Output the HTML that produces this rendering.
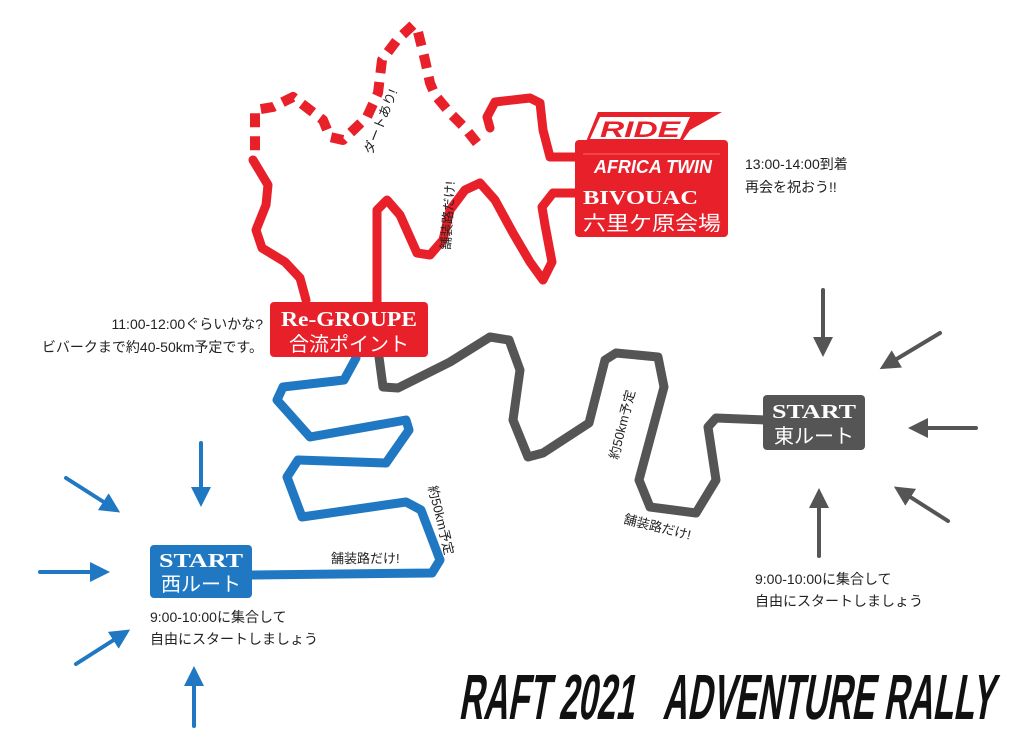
<!DOCTYPE html>
<html><head><meta charset="utf-8"><style>
html,body{margin:0;padding:0;background:#fff;}
svg{display:block;}
text{font-family:"Liberation Sans","Noto Sans CJK JP",sans-serif;}
.s{font-size:14px;fill:#222;}
.r{font-size:13px;fill:#222;}
.bx{font-family:"Liberation Serif","Noto Serif CJK SC",serif;font-weight:bold;fill:#fff;}
.jp{fill:#fff;font-size:20px;}
</style></head><body>
<svg width="1024" height="741" viewBox="0 0 1024 741" xmlns="http://www.w3.org/2000/svg">
<defs>
<marker id="ab" markerWidth="5" markerHeight="5" refX="2" refY="2.5" orient="auto" markerUnits="strokeWidth"><path d="M0,0 L5,2.5 L0,5 z" fill="#1f78c1"/></marker>
<marker id="ag" markerWidth="5" markerHeight="5" refX="2" refY="2.5" orient="auto" markerUnits="strokeWidth"><path d="M0,0 L5,2.5 L0,5 z" fill="#555"/></marker>
</defs>
<g fill="none" stroke-linecap="round" stroke-linejoin="round">
<polyline stroke="#e8202a" stroke-width="9" points="253,160 268,185 266,205 256,230 262,248 285,262 300,278 306,300"/>
<polyline stroke="#e8202a" stroke-width="9" points="377,305 377,210 387,200 400,215 417,253 430,255 443,240 450,210 465,190 480,183 495,200 513,233 530,262 543,280 552,262 545,225 542,207 553,193 575,193"/>
<polyline stroke="#e8202a" stroke-width="9" points="575,157 550,157 543,130 540,103 530,98 495,102 487,117 490,128"/>
<polyline stroke="#e8202a" stroke-width="10" stroke-dasharray="14,9" stroke-linecap="butt" points="477,143 465,128 450,113 435,95 430,83 425,60 418,32 413,25 397,40 382,60 378,93 367,117 343,140 330,137 323,120 310,110 293,97 273,107 255,110 255,153"/>
<polyline stroke="#555" stroke-width="9" points="379,357 383,387 398,388 450,362 490,337 509,340 520,370 513,420 528,457 543,453 589,423 605,360 616,353 658,357 664,387 639,480 650,507 696,513 716,480 708,427 716,418 765,420"/>
<polyline stroke="#1f78c1" stroke-width="9" points="356,358 344,380 283,387 277,400 310,437 406,420 409,430 386,463 298,460 287,477 302,517 406,502 421,510 440,560 432,573 250,575"/>
<g stroke="#1f78c1" stroke-width="4">
<line x1="66" y1="478" x2="110" y2="506" marker-end="url(#ab)"/>
<line x1="201" y1="443" x2="201" y2="495" marker-end="url(#ab)"/>
<line x1="40" y1="572" x2="98" y2="572" marker-end="url(#ab)"/>
<line x1="76" y1="664" x2="120" y2="636" marker-end="url(#ab)"/>
<line x1="194" y1="726" x2="194" y2="678" marker-end="url(#ab)"/>
</g>
<g stroke="#555" stroke-width="4">
<line x1="823" y1="290" x2="823" y2="345" marker-end="url(#ag)"/>
<line x1="940" y1="333" x2="890" y2="363" marker-end="url(#ag)"/>
<line x1="976" y1="428" x2="920" y2="428" marker-end="url(#ag)"/>
<line x1="948" y1="521" x2="904" y2="493" marker-end="url(#ag)"/>
<line x1="819" y1="556" x2="819" y2="500" marker-end="url(#ag)"/>
</g>
</g>
<rect x="270" y="302" width="158" height="55" rx="4" fill="#e8202a"/>
<text x="349" y="326" class="bx" font-size="21" text-anchor="middle" textLength="136" lengthAdjust="spacingAndGlyphs">Re-GROUPE</text>
<text x="349" y="351" class="jp" text-anchor="middle" font-size="21">合流ポイント</text>

<rect x="150" y="545" width="102" height="53" rx="4" fill="#1f78c1"/>
<text x="201" y="567" class="bx" font-size="20" text-anchor="middle" textLength="84" lengthAdjust="spacingAndGlyphs">START</text>
<text x="201" y="591" class="jp" text-anchor="middle">西ルート</text>

<rect x="763" y="395" width="102" height="55" rx="4" fill="#555"/>
<text x="814" y="418" class="bx" font-size="20" text-anchor="middle" textLength="84" lengthAdjust="spacingAndGlyphs">START</text>
<text x="814" y="443" class="jp" text-anchor="middle">東ルート</text>

<rect x="575" y="140" width="153" height="97" rx="4" fill="#e8202a"/>
<polygon points="598,112 722,112 690,130 680,144 585,144" fill="#e8202a"/>
<polygon points="600,117 690,117 680,139 590,139" fill="#fff"/>
<text x="640" y="137" font-size="22" font-weight="bold" font-style="italic" fill="#e8202a" text-anchor="middle" textLength="80" lengthAdjust="spacingAndGlyphs">RIDE</text>
<line x1="583" y1="154" x2="720" y2="154" stroke="#f66" stroke-width="1"/>
<text x="653" y="173" font-size="18" font-weight="bold" font-style="italic" fill="#fff" text-anchor="middle" textLength="118" lengthAdjust="spacingAndGlyphs">AFRICA TWIN</text>
<text x="583" y="204" class="bx" font-size="20" textLength="115" lengthAdjust="spacingAndGlyphs">BIVOUAC</text>
<text x="583" y="230" class="jp" font-size="21" textLength="138" lengthAdjust="spacingAndGlyphs">六里ケ原会場</text>

<text x="745" y="169" class="s">13:00-14:00到着</text>
<text x="745" y="192" class="s">再会を祝おう!!</text>
<text x="263" y="329" class="s" text-anchor="end">11:00-12:00ぐらいかな?</text>
<text x="263" y="352" class="s" text-anchor="end">ビバークまで約40-50km予定です。</text>
<text x="150" y="622" class="s">9:00-10:00に集合して</text>
<text x="150" y="644" class="s">自由にスタートしましょう</text>
<text x="755" y="584" class="s">9:00-10:00に集合して</text>
<text x="755" y="606" class="s">自由にスタートしましょう</text>
<text class="r" transform="translate(372,155) rotate(-68)">ダートあり!</text>
<text class="r" transform="translate(450,250) rotate(-86)">舗装路だけ!</text>
<text class="r" transform="translate(618,460) rotate(-76)">約50km予定</text>
<text class="r" transform="translate(623,523) rotate(14)">舗装路だけ!</text>
<text class="r" x="331" y="563">舗装路だけ!</text>
<text class="r" transform="translate(428,487) rotate(76)">約50km予定</text>
<text x="458" y="719" font-size="64" font-weight="bold" fill="#111" transform="translate(127,0) skewX(-10)" textLength="535" lengthAdjust="spacingAndGlyphs">RAFT 2021&#160;&#160;&#160;ADVENTURE RALLY</text>
</svg>
</body></html>
